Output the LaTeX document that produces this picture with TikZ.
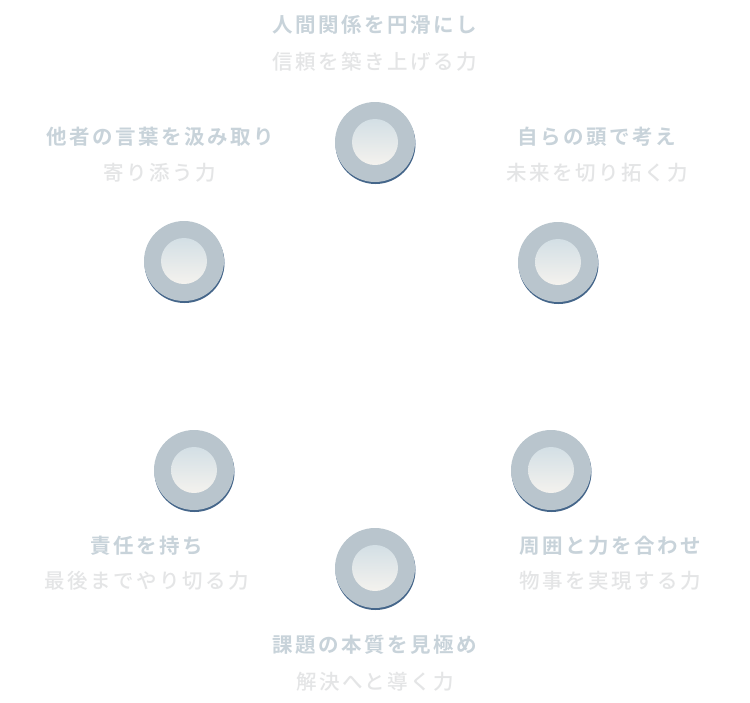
\documentclass[tikz,border=0pt]{standalone}
\usepackage{fontspec}
\newfontfamily\jpb[LetterSpace=12]{Noto Sans CJK JP Bold}
\newfontfamily\jpm[LetterSpace=12]{Noto Sans CJK JP Medium}
\definecolor{titlec}{HTML}{C8D3DA}
\definecolor{subc}{HTML}{E4E5E6}
\definecolor{ringc}{HTML}{B9C5CD}
\definecolor{ringdark}{HTML}{45668A}
\definecolor{innertop}{HTML}{D3DFE5}
\definecolor{innerbot}{HTML}{F4F2EE}
\tikzset{
  x=1pt,y=-1pt,
  titletext/.style={font=\jpb\fontsize{20.5}{24}\selectfont, text=titlec, inner sep=0pt},
  subtext/.style={font=\jpm\fontsize{20.5}{24}\selectfont, text=subc, inner sep=0pt},
  ringshadow/.style={circle, minimum size=80pt, inner sep=0pt, fill=ringdark, draw=none},
  ring/.style={circle, minimum size=80pt, inner sep=0pt, fill=ringc, draw=none},
  innerdisc/.style={circle, minimum size=46pt, inner sep=0pt, top color=innertop, bottom color=innerbot, draw=none},
}
\begin{document}
\begin{tikzpicture}
\useasboundingbox (0,0) rectangle (750,702);
\fill[white] (0,0) rectangle (750,702);
% circles
\foreach \n/\cx/\cy in {top/375/142, ur/558/262, ul/184/261, ll/194/470, lr/551/470, bot/375/568}{
  \node[ringshadow] (\n-sh) at (\cx+0.5,\cy+2) {};
  \node[ring] (\n-ring) at (\cx,\cy) {};
  \node[innerdisc] (\n-in) at (\cx,\cy) {};
}
% texts
\node[titletext] (t1) at (375,25) {人間関係を円滑にし};
\node[subtext] (s1) at (375,62) {信頼を築き上げる力};
\node[titletext] (t2) at (160,137) {他者の言葉を汲み取り};
\node[subtext] (s2) at (160,173) {寄り添う力};
\node[titletext] (t3) at (597,137) {自らの頭で考え};
\node[subtext] (s3) at (597,173) {未来を切り拓く力};
\node[titletext] (t4) at (147,546) {責任を持ち};
\node[subtext] (s4) at (147,581) {最後までやり切る力};
\node[titletext] (t5) at (610,546) {周囲と力を合わせ};
\node[subtext] (s5) at (610,581) {物事を実現する力};
\node[titletext] (t6) at (375,645) {課題の本質を見極め};
\node[subtext] (s6) at (375,682) {解決へと導く力};
\end{tikzpicture}
\end{document}
